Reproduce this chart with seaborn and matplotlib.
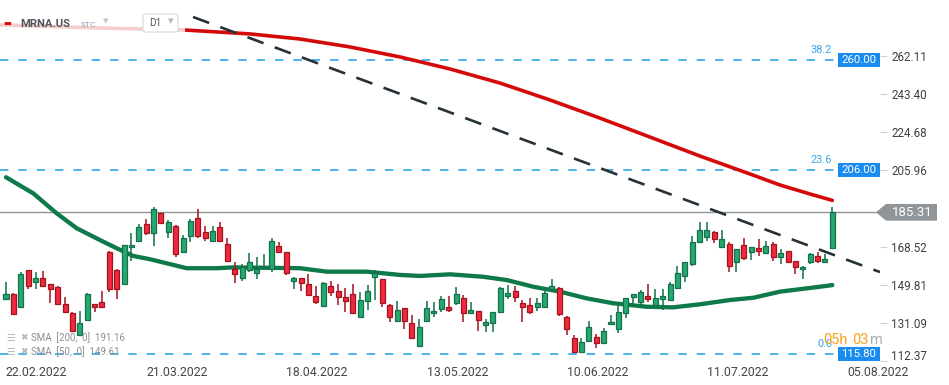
import numpy as np
import pandas as pd
import seaborn as sns
import matplotlib.pyplot as plt
from matplotlib import transforms
from matplotlib.patches import Polygon, Rectangle, FancyBboxPatch

# daily candles, MRNA.US, 22.02.2022 onwards
opens = [142.7, 145.1, 138.7, 156.9, 151.0, 153.0, 150.0, 148.5, 140.2, 135.8,
         125.3, 132.5, 140.2, 141.2, 166.0, 157.0, 150.0, 168.1, 171.2, 179.4,
         175.3, 184.8, 175.5, 178.6, 166.0, 173.8, 182.4, 175.5, 171.4, 177.9,
         169.8, 157.5, 153.0, 157.0, 155.4, 157.9, 157.4, 168.9, 165.7, 151.8,
         153.0, 150.0, 144.1, 139.2, 149.2, 146.7, 143.6, 145.1, 134.1, 142.0,
         153.4, 152.5, 139.7, 132.2, 138.2, 130.9, 119.9, 132.2, 135.8, 137.7,
         138.7, 140.7, 143.1, 135.8, 136.8, 129.9, 130.9, 136.3, 144.4, 146.7,
         140.7, 139.9, 138.7, 139.0, 147.7, 148.3, 134.1, 123.5, 117.0, 122.4,
         124.3, 121.1, 130.4, 127.9, 135.8, 143.9, 141.5, 144.3, 139.9, 143.0,
         142.3, 148.0, 154.2, 159.8, 170.6, 173.4, 175.5, 168.4, 169.8, 161.1,
         169.3, 166.0, 167.7, 165.2, 169.6, 163.5, 166.3, 161.4, 157.4, 161.1,
         163.9, 161.1, 167.6]
highs = [151.3, 145.8, 156.2, 157.2, 156.2, 156.5, 150.2, 149.2, 143.6, 136.3,
         136.9, 145.6, 140.4, 146.9, 166.2, 157.4, 169.5, 175.3, 179.4, 182.0,
         188.1, 185.0, 181.5, 179.1, 174.2, 182.0, 186.9, 178.6, 178.6, 180.4,
         172.6, 160.8, 159.8, 165.2, 163.3, 164.9, 172.6, 170.6, 166.0, 153.7,
         153.2, 155.1, 149.2, 151.3, 151.8, 150.2, 148.0, 150.2, 146.1, 149.7,
         157.0, 152.7, 140.3, 141.8, 138.4, 135.0, 132.8, 141.8, 141.5, 144.3,
         144.3, 148.5, 144.8, 141.5, 137.0, 132.8, 136.5, 148.8, 149.7, 149.2,
         142.3, 143.1, 143.1, 146.7, 152.5, 148.6, 134.3, 125.1, 123.5, 132.0,
         125.6, 128.4, 135.0, 139.9, 143.4, 145.3, 147.2, 150.2, 147.6, 147.5,
         151.3, 159.1, 161.0, 173.7, 180.4, 180.4, 176.3, 176.6, 170.6, 167.4,
         172.6, 168.3, 172.1, 171.4, 170.9, 167.2, 166.5, 161.6, 159.1, 165.5,
         165.7, 164.7, 188.1]
lows = [142.3, 134.8, 138.5, 147.6, 147.6, 149.0, 141.0, 140.0, 136.3, 127.0,
        125.0, 132.2, 136.3, 138.5, 146.2, 142.7, 149.8, 161.4, 171.0, 174.2,
        168.8, 179.7, 172.8, 163.5, 165.8, 170.6, 172.9, 171.4, 170.6, 171.2,
        160.8, 150.8, 151.8, 155.9, 152.5, 157.7, 155.9, 165.2, 154.6, 147.6,
        146.9, 144.4, 140.3, 139.0, 144.4, 139.9, 136.6, 135.4, 133.9, 137.4,
        142.3, 139.0, 131.7, 132.0, 128.2, 123.3, 119.7, 132.0, 134.1, 136.6,
        136.6, 139.9, 131.7, 135.6, 127.3, 126.8, 126.8, 136.0, 142.8, 141.5,
        131.7, 135.4, 137.1, 138.5, 146.9, 134.6, 125.1, 116.5, 116.5, 122.2,
        118.6, 120.6, 130.2, 126.3, 133.3, 139.5, 139.5, 141.5, 138.7, 137.4,
        142.0, 147.8, 151.0, 159.1, 170.4, 171.4, 170.4, 167.6, 156.2, 156.2,
        161.9, 161.9, 164.0, 165.0, 161.4, 159.8, 160.3, 154.9, 152.5, 159.8,
        160.3, 160.9, 167.4]
closes = [145.1, 135.6, 155.1, 149.2, 153.0, 149.2, 147.6, 140.3, 136.6, 127.3,
          130.9, 145.1, 139.0, 138.7, 147.6, 147.9, 169.3, 169.3, 178.3, 175.0,
          186.8, 179.9, 180.4, 164.7, 172.6, 181.2, 173.8, 172.9, 176.3, 171.4,
          161.6, 155.1, 158.6, 160.8, 157.5, 158.6, 171.1, 166.0, 155.4, 153.0,
          150.8, 144.6, 141.2, 150.5, 146.1, 143.6, 142.0, 136.1, 142.2, 146.6,
          155.4, 140.7, 134.1, 137.4, 132.2, 123.5, 128.9, 138.2, 136.9, 142.6,
          137.4, 145.1, 135.8, 137.3, 132.5, 131.4, 136.3, 148.0, 145.6, 143.9,
          139.0, 136.6, 140.7, 145.6, 149.3, 135.3, 127.9, 117.0, 121.6, 128.9,
          121.1, 127.0, 131.4, 136.3, 143.1, 145.1, 146.1, 142.7, 143.1, 144.3,
          150.2, 155.4, 160.8, 170.6, 176.6, 176.6, 172.1, 172.1, 159.1, 167.2,
          162.8, 168.1, 166.5, 168.9, 163.5, 165.2, 160.8, 158.3, 158.3, 164.7,
          161.6, 162.3, 185.31]

# moving averages (candle index, price)
sma200_idx = [-0.81, 12.74, 24.26, 33.07, 39.85, 46.63, 53.4, 60.18, 66.96,
              73.73, 80.51, 87.29, 94.06, 100.84, 104.9, 108.97, 112]
sma200_val = [277.2, 275.7, 274.7, 272.8, 270.3, 266.4, 261.5, 255.6, 248.7,
              240.4, 231.5, 222.2, 212.9, 204.1, 198.7, 194.3, 191.16]
sma50_idx = [0, 3.7, 6.87, 9.58, 12.74, 15.0, 17.25, 19.52, 21.78, 24.49, 28.56,
             30.81, 35.34, 39.85, 43.47, 48.89, 53.4, 56.11, 60.18, 64.69, 67.86,
             71.47, 75.09, 78.71, 82.31, 86.84, 90.44, 94.06, 98.12, 101.29,
             104.9, 109.4, 112]
sma50_val = [202.5, 194.6, 184.8, 177.5, 171.7, 167.7, 163.9, 162.3, 160.3,
             157.9, 157.9, 158.3, 158.1, 157.9, 156.2, 156.2, 154.6, 154.1,
             154.9, 153.7, 152.1, 148.8, 146.4, 143.1, 140.7, 139.0, 138.7,
             140.2, 142.3, 143.4, 146.4, 148.4, 149.61]

trend_idx = [25.35, 118.46]
trend_val = [281.1, 156.0]

fib_levels = [260.00, 206.00, 115.80]
fib_labels = ["38.2", "23.6", "0.0"]
last_price = 185.31
sma200_last = 191.16
sma50_last = 149.61

price_ticks = [262.11, 243.40, 224.68, 205.96, 187.24, 168.52, 149.81, 131.09, 112.37]
date_labels = ["22.02.2022", "21.03.2022", "18.04.2022", "13.05.2022",
               "10.06.2022", "11.07.2022", "05.08.2022"]
holidays = ["2022-04-15", "2022-05-30", "2022-06-20", "2022-07-04"]

GREEN, GREEN_EDGE = "#27a86f", "#14704a"
RED, RED_EDGE = "#ee2a3c", "#a3121f"
FIB = "#1e9de8"
BOX = "#1a8cf0"

sns.set_style("white")
plt.rcParams["font.family"] = ["Roboto", "DejaVu Sans"]

cal = pd.bdate_range("2022-02-22", "2022-08-05", freq="C", holidays=holidays)
df = pd.DataFrame({"open": opens, "high": highs, "low": lows, "close": closes})
df["date"] = cal[:len(df)]
df["i"] = np.arange(len(df))
up = df["close"] >= df["open"]

fig = plt.figure(figsize=(9.49, 3.85), dpi=100)
ax = fig.add_axes([0, 23 / 385, 880 / 949, 362 / 385])
ax.set_xlim(-0.813, 118.46)
ax.set_ylim(111.9, 289.43)

# fibonacci levels
trans = transforms.blended_transform_factory(ax.transAxes, ax.transData)
for lvl, lab in zip(fib_levels, fib_labels):
    ax.axhline(lvl, xmin=0, xmax=838 / 880, color=FIB, lw=1.1, ls=(0, (5.5, 6.5)), zorder=1)
    ax.add_patch(Rectangle((838 / 880, lvl - 3.5), 42 / 880, 7.0, transform=trans,
                           fc=BOX, ec="none", clip_on=False, zorder=6))
    ax.text(859 / 880, lvl, f"{lvl:.2f}", transform=trans, ha="center", va="center",
            color="white", fontsize=8.2, zorder=7, clip_on=False)
    ax.annotate(lab, xy=(832 / 880, lvl), xycoords=trans, xytext=(0, 7.5),
                textcoords="offset points", ha="right", va="center",
                color="#3aa6ea", fontsize=7.8, zorder=7)

# last price line
ax.axhline(last_price, color="#8e9498", lw=1, zorder=1)

# moving averages and trend line
sns.lineplot(x=sma200_idx, y=sma200_val, ax=ax, color="#d40a0a", lw=2.6,
             estimator=None, sort=False, zorder=2)
sns.lineplot(x=sma50_idx, y=sma50_val, ax=ax, color="#0e7a4a", lw=3.1,
             estimator=None, sort=False, zorder=2)
sns.lineplot(x=trend_idx, y=trend_val, ax=ax, color="#263238", lw=1.9,
             linestyle=(0, (6.5, 4.5)), estimator=None, sort=False, zorder=2.5)

# candles
edge = np.where(up, GREEN_EDGE, RED_EDGE)
fill = np.where(up, GREEN, RED)
ax.vlines(df["i"], df["low"], df["high"], colors=edge, lw=1.1, zorder=3)
body_lo = np.minimum(df["open"], df["close"])
body_h = np.maximum((df["close"] - df["open"]).abs(), 0.7)
ax.bar(df["i"], body_h, bottom=body_lo, width=0.68, color=fill,
       edgecolor=edge, linewidth=0.9, zorder=4)

# axes
for s in ax.spines.values():
    s.set_visible(False)
ax.yaxis.tick_right()
ax.set_yticks(price_ticks)
ax.set_yticklabels([f"{v:.2f}" for v in price_ticks])
ax.tick_params(axis="y", length=5, color="#d0d0d0", pad=3, labelsize=8.4,
               labelcolor="#3c4043")
ylabs = ax.get_yticklabels()
ylabs[-1].set_transform(ylabs[-1].get_transform() +
                        transforms.ScaledTranslation(0, 6 / 100, fig.dpi_scale_trans))

tick_pos = cal.get_indexer(pd.to_datetime(date_labels, dayfirst=True))
ax.set_xticks(tick_pos)
ax.set_xticklabels(date_labels, ha="left")
ax.tick_params(axis="x", direction="in", length=3, color="#c8c8c8", pad=3,
               labelsize=8.8, labelcolor="#444444")
ax.set_xlabel("")
ax.set_ylabel("")

# last price tag (covers the 187.24 tick label, as in the platform)
h = 4.1
pts = [(876 / 880, last_price), (886 / 880, last_price + h), (937 / 880, last_price + h),
       (937 / 880, last_price - h), (886 / 880, last_price - h)]
ax.add_patch(Polygon(pts, closed=True, transform=trans, fc="#8f9598", ec="none",
                     clip_on=False, zorder=8))
ax.text(912 / 880, last_price, f"{last_price:.2f}", transform=trans, ha="center",
        va="center", color="white", fontsize=9.5, zorder=9, clip_on=False)


def px(x, y):
    return x / 949, 1 - y / 385


# header legend
fig.add_artist(Rectangle(px(0, 34), 185 / 949, 26 / 385, transform=fig.transFigure,
                         fc="white", ec="none", alpha=0.8, zorder=5))
fig.text(*px(3, 24), "▬", color="#d40a0a", fontsize=6, va="center", zorder=6)
fig.text(*px(20, 24), "MRNA.US", color="#4f555b", fontsize=8.1, fontweight="bold",
         va="center", zorder=6)
fig.text(*px(81, 25), "STC", color="#8fa0b3", fontsize=6, va="center", zorder=6)
fig.text(*px(103, 22), "▼", color="#c0c6cc", fontsize=5, va="center", zorder=6)
fig.add_artist(FancyBboxPatch(px(143, 32), 35 / 949, 18 / 385, transform=fig.transFigure,
                              boxstyle="round,pad=0,rounding_size=0.004",
                              fc="white", ec="#d5d9dd", lw=0.8, zorder=6))
fig.text(*px(149, 23), "D1", color="#50555a", fontsize=7.2, va="center", zorder=7)
fig.text(*px(168, 22), "▼", color="#b0b8c0", fontsize=5, va="center", zorder=7)

# indicator legend
for row_y, txt in [(338, f"SMA  [200,  0]  {sma200_last:.2f}"),
                   (352, f"SMA  [50,  0]  {sma50_last:.2f}")]:
    fig.text(*px(6, row_y), "☰", color="#b5b9bd", fontsize=7, va="center", zorder=6)
    fig.text(*px(20, row_y), "✖", color="#b5b9bd", fontsize=6.5, va="center", zorder=6)
    fig.text(*px(31, row_y), txt, color="#8a8d90", fontsize=7, va="center", zorder=6)

# candle countdown
fig.text(*px(823, 340), "05h", color="#f7a21b", fontsize=10.5, va="center", zorder=6)
fig.text(*px(852, 340), "03", color="#f7a21b", fontsize=10.5, va="center", zorder=6)
fig.text(*px(870, 340), "m", color="#a8acb0", fontsize=10.5, va="center", zorder=6)

fig.savefig("out.png", dpi=100, facecolor="white")
